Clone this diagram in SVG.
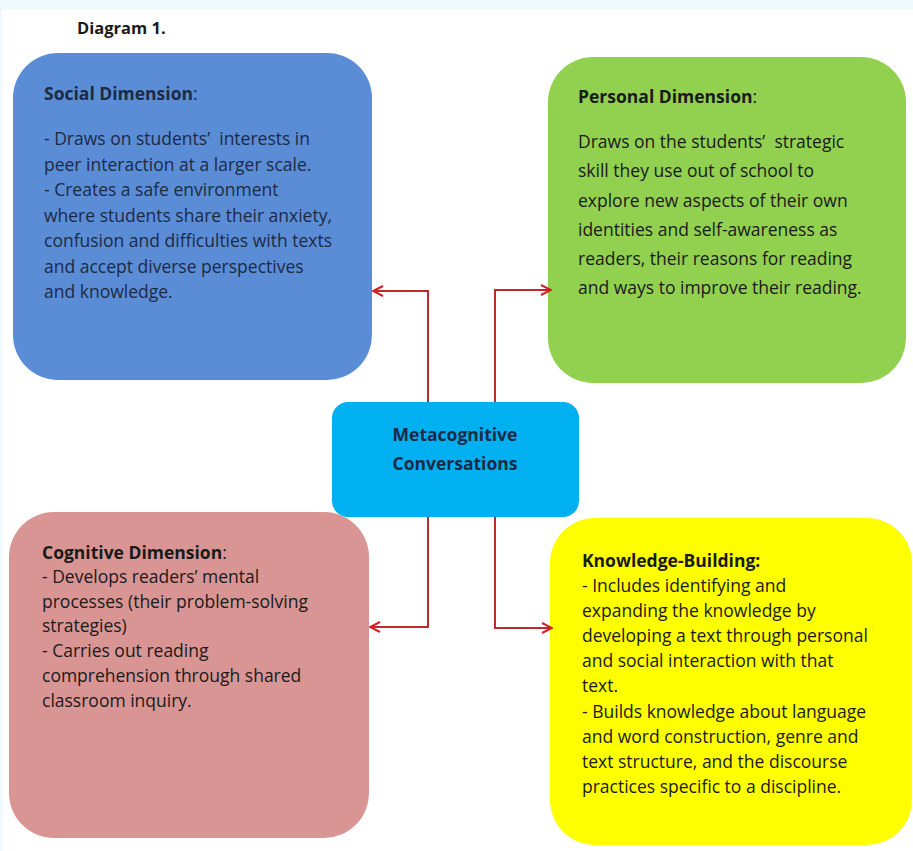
<svg xmlns="http://www.w3.org/2000/svg" width="913" height="851" viewBox="0 0 913 851">
<defs>
<style>
.box{stroke:none}
.t{font-family:"Open Sans","Liberation Sans",sans-serif;font-size:17.5px;fill:#1a1a1a;white-space:pre}
.b{font-weight:bold}
.blue .t{fill:#1d2a44}
.center .t{fill:#1b2a45;font-size:17.5px;font-weight:bold}
.con{fill:none;stroke:#c0282d;stroke-width:2}
</style>
<marker id="arr" viewBox="0 0 12 12" refX="11" refY="6" markerWidth="12" markerHeight="12" markerUnits="userSpaceOnUse" orient="auto">
<path d="M1,1 L11,6 L1,11" fill="none" stroke="#d42020" stroke-width="2"/>
</marker>
</defs>
<rect x="0" y="0" width="913" height="851" fill="#ffffff"/>
<rect x="0" y="0" width="913" height="9" fill="#eef9fd"/>
<rect x="0" y="0" width="2" height="851" fill="#eef9fd"/>
<text x="77" y="34" class="t b" style="font-size:16.5px">Diagram 1.</text>

<g id="social" class="blue">
<rect class="box" x="13" y="53" width="359" height="327" rx="45" fill="#5a8dd6"/>
<text class="t" x="44" y="100"><tspan class="b">Social Dimension</tspan>:</text>
<text class="t" x="44" y="145">- Draws on students’  interests in</text>
<text class="t" x="44" y="170.5">peer interaction at a larger scale.</text>
<text class="t" x="44" y="196">- Creates a safe environment</text>
<text class="t" x="44" y="221.5">where students share their anxiety,</text>
<text class="t" x="44" y="247">confusion and difficulties with texts</text>
<text class="t" x="44" y="272.5">and accept diverse perspectives</text>
<text class="t" x="44" y="298">and knowledge.</text>
</g>

<g id="personal">
<rect class="box" x="548" y="57" width="358" height="326" rx="45" fill="#92d050"/>
<text class="t" x="578" y="103"><tspan class="b">Personal Dimension</tspan>:</text>
<text class="t" x="578" y="148">Draws on the students’  strategic</text>
<text class="t" x="578" y="177">skill they use out of school to</text>
<text class="t" x="578" y="206.5">explore new aspects of their own</text>
<text class="t" x="578" y="236">identities and self-awareness as</text>
<text class="t" x="578" y="265">readers, their reasons for reading</text>
<text class="t" x="578" y="294">and ways to improve their reading.</text>
</g>

<g id="center" class="center">
<rect class="box" x="332" y="402" width="247" height="115" rx="16" fill="#00b0f0"/>
<text class="t" x="455" y="441" text-anchor="middle">Metacognitive</text>
<text class="t" x="455" y="470" text-anchor="middle">Conversations</text>
</g>

<g id="cognitive">
<rect class="box" x="9" y="512" width="360" height="326" rx="45" fill="#d99594"/>
<text class="t" x="42" y="558.5"><tspan class="b">Cognitive Dimension</tspan>:</text>
<text class="t" x="42" y="583">- Develops readers’ mental</text>
<text class="t" x="42" y="608">processes (their problem-solving</text>
<text class="t" x="42" y="632">strategies)</text>
<text class="t" x="42" y="657">- Carries out reading</text>
<text class="t" x="42" y="682">comprehension through shared</text>
<text class="t" x="42" y="707">classroom inquiry.</text>
</g>

<g id="knowledge">
<rect class="box" x="550" y="518" width="362" height="327" rx="45" fill="#ffff00"/>
<text class="t b" x="582" y="567">Knowledge-Building:</text>
<text class="t" x="582" y="592">- Includes identifying and</text>
<text class="t" x="582" y="617">expanding the knowledge by</text>
<text class="t" x="582" y="642">developing a text through personal</text>
<text class="t" x="582" y="667">and social interaction with that</text>
<text class="t" x="582" y="692">text.</text>
<text class="t" x="582" y="718">- Builds knowledge about language</text>
<text class="t" x="582" y="743">and word construction, genre and</text>
<text class="t" x="582" y="768">text structure, and the discourse</text>
<text class="t" x="582" y="793">practices specific to a discipline.</text>
</g>

<g id="connectors">
<path class="con" d="M428,402 V291 H373" marker-end="url(#arr)"/>
<path class="con" d="M495,402 V290 H551" marker-end="url(#arr)"/>
<path class="con" d="M428,517 V627 H370" marker-end="url(#arr)"/>
<path class="con" d="M495,517 V628 H552" marker-end="url(#arr)"/>
</g>
</svg>
